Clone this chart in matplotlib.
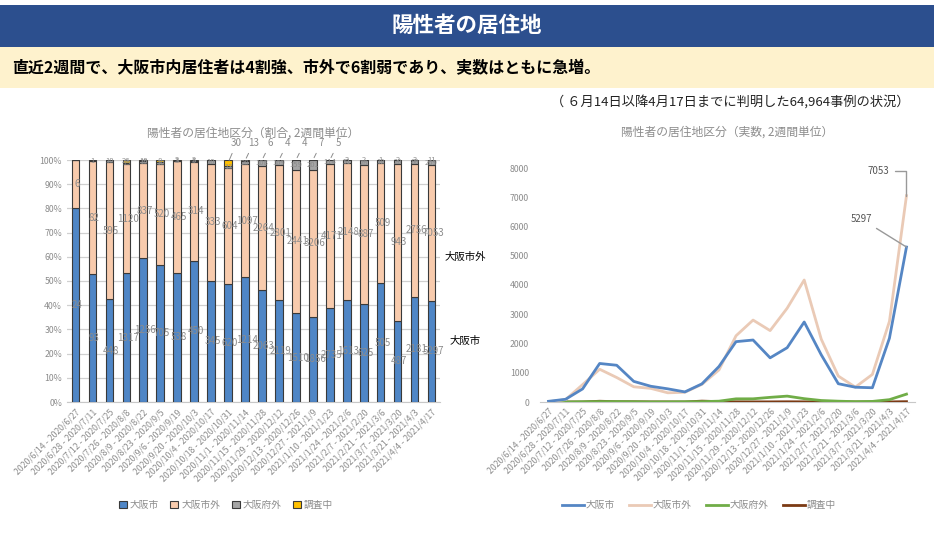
import matplotlib
matplotlib.use("Agg")
import matplotlib.pyplot as plt
import numpy as np
from matplotlib.lines import Line2D
from matplotlib.patches import Patch, Rectangle
from matplotlib.ticker import PercentFormatter

plt.rcParams["font.family"] = ["Noto Sans CJK JP", "DejaVu Sans"]

periods = [
    "2020/6/14 - 2020/6/27", "2020/6/28 - 2020/7/11", "2020/7/12 - 2020/7/25",
    "2020/7/26 - 2020/8/8", "2020/8/9 - 2020/8/22", "2020/8/23 - 2020/9/5",
    "2020/9/6 - 2020/9/19", "2020/9/20 - 2020/10/3", "2020/10/4 - 2020/10/17",
    "2020/10/18 - 2020/10/31", "2020/11/1 - 2020/11/14", "2020/11/15 - 2020/11/28",
    "2020/11/29 - 2020/12/12", "2020/12/13 - 2020/12/26", "2020/12/27 - 2021/1/9",
    "2021/1/10 - 2021/1/23", "2021/1/24 - 2021/2/6", "2021/2/7 - 2021/2/20",
    "2021/2/21 - 2021/3/6", "2021/3/7 - 2021/3/20", "2021/3/21 - 2021/4/3",
    "2021/4/4 - 2021/4/17",
]
osaka_city = [24, 93, 448, 1317, 1256, 705, 538, 450, 345, 620, 1214, 2063,
              2119, 1510, 1856, 2735, 1613, 625, 505, 487, 2181, 5297]
osaka_other_city = [6, 82, 595, 1120, 837, 520, 465, 314, 333, 604, 1097, 2264,
                    2801, 2441, 3206, 4171, 2148, 887, 509, 943, 2756, 7053]
outside_pref = [0, 1, 10, 15, 15, 10, 3, 5, 10, 13, 28, 108,
                109, 159, 201, 114, 51, 28, 12, 20, 80, 269]
investigating = [0, 0, 0, 26, 10, 8, 3, 2, 0, 30, 13, 6,
                 4, 4, 7, 5, 3, 2, 1, 2, 3, 11]
series_names = ["大阪市", "大阪市外", "大阪府外", "調査中"]

bar_colors = ["#4F86C6", "#F8CBAD", "#A5A5A5", "#FFC000"]
line_colors = ["#5586C4", "#EACAB6", "#70AD47", "#7B3A14"]
gray = "#8C8C8C"

fig = plt.figure(figsize=(9.34, 5.39), dpi=100)

# header bands
fig.patches.append(Rectangle((0, 1 - 47 / 539), 1, 42 / 539, transform=fig.transFigure,
                             facecolor="#2C4F8E", edgecolor="none"))
fig.patches.append(Rectangle((0, 1 - 88 / 539), 1, 41 / 539, transform=fig.transFigure,
                             facecolor="#FEF2CD", edgecolor="none"))
fig.text(0.5, 1 - 25 / 539, "陽性者の居住地", color="white", fontsize=15.5,
         fontweight="bold", ha="center", va="center")
fig.text(12 / 934, 1 - 68 / 539, "直近2週間で、大阪市内居住者は4割強、市外で6割弱であり、実数はともに急増。",
         color="black", fontsize=11.5, fontweight="bold", ha="left", va="center")
fig.text(910 / 934, 1 - 102 / 539, "（ ６月14日以降4月17日までに判明した64,964事例の状況）",
         color="#222222", fontsize=9.5, ha="right", va="center")

# ---------------------------------------------------------------------------
# left: stacked ratio bars
# ---------------------------------------------------------------------------
data = np.array([osaka_city, osaka_other_city, outside_pref, investigating], dtype=float)
ratios = data / data.sum(axis=0)
x = np.arange(len(periods))

ax1 = fig.add_axes([67 / 934, 1 - 402 / 539, 373 / 934, 242 / 539])
bottom = np.zeros(len(periods))
for k in range(4):
    ax1.bar(x, ratios[k], 0.45, bottom=bottom, color=bar_colors[k],
            edgecolor="#3A3A3A", linewidth=0.8, zorder=3)
    for i in range(len(periods)):
        v = data[k, i]
        if v == 0:
            continue
        yc = bottom[i] + ratios[k, i] / 2
        if k == 3 and 9 <= i <= 15:
            ax1.annotate(f"{int(v)}", (x[i], yc), xytext=(x[i] + 0.5, 1.07),
                         textcoords="data", fontsize=7, color=gray, ha="center",
                         va="center", annotation_clip=False,
                         arrowprops=dict(arrowstyle="-", color=gray, lw=0.7))
        elif k >= 2:
            ax1.text(x[i], yc, f"{int(v)}", fontsize=5.5, color=gray,
                     ha="center", va="center", zorder=4)
        else:
            ax1.text(x[i] + 0.1, yc, f"{int(v)}", fontsize=7, color=gray,
                     ha="center", va="center", zorder=4)
    bottom += ratios[k]

ax1.set_xlim(-0.5, len(periods) - 0.5)
ax1.set_ylim(0, 1)
ax1.set_yticks(np.arange(0, 1.01, 0.1))
ax1.yaxis.set_major_formatter(PercentFormatter(1.0, decimals=0))
ax1.grid(axis="y", color="#D0D0D0", linewidth=0.9, zorder=0)
ax1.set_xticks(x)
ax1.set_xticklabels(periods, rotation=45, ha="right", rotation_mode="anchor")
ax1.tick_params(axis="both", length=0, labelsize=6.3, colors=gray)
ax1.tick_params(axis="x", pad=4)
for side in ["top", "right", "left"]:
    ax1.spines[side].set_visible(False)
ax1.spines["bottom"].set_color("#C8C8C8")
ax1.set_title("陽性者の居住地区分（割合, 2週間単位）", fontsize=8.5, color=gray, pad=17)

handles = [Patch(facecolor=c, edgecolor="#3A3A3A", linewidth=0.8) for c in bar_colors]
fig.legend(handles, series_names, loc="center", bbox_to_anchor=(226 / 934, 1 - 505 / 539),
           ncol=4, frameon=False, fontsize=7, labelcolor=gray, handlelength=0.8,
           handleheight=0.8, handletextpad=0.3, columnspacing=1.2)

fig.text(465 / 934, 1 - 257 / 539, "大阪市外", fontsize=7.5, ha="center", va="center")
fig.text(465 / 934, 1 - 341 / 539, "大阪市", fontsize=7.5, ha="center", va="center")

# ---------------------------------------------------------------------------
# right: counts as lines
# ---------------------------------------------------------------------------
ax2 = fig.add_axes([540 / 934, 1 - 402 / 539, 375 / 934, 234 / 539])
for k in range(4):
    ax2.plot(x, data[k], color=line_colors[k], linewidth=2, zorder=3 - k * 0.1)

ax2.annotate(f"{osaka_other_city[-1]}", (x[-1], osaka_other_city[-1]),
             xytext=(x[-1] - 1.0, 7900), fontsize=7, color="#555555", ha="right",
             va="center", annotation_clip=False,
             arrowprops=dict(arrowstyle="-", color="#999999", lw=1,
                             connectionstyle="angle,angleA=0,angleB=90,rad=0",
                             shrinkA=2, shrinkB=0))
ax2.annotate(f"{osaka_city[-1]}", (x[-1], osaka_city[-1]),
             xytext=(x[-1] - 2.0, 6250), fontsize=7, color="#555555", ha="right",
             va="center", annotation_clip=False,
             arrowprops=dict(arrowstyle="-", color="#999999", lw=1,
                             shrinkA=2, shrinkB=0))

ax2.set_xlim(-0.5, len(periods) - 0.5)
ax2.set_ylim(0, 8000)
ax2.set_yticks(np.arange(0, 8001, 1000))
ax2.set_xticks(x)
ax2.set_xticklabels(periods, rotation=45, ha="right", rotation_mode="anchor")
ax2.tick_params(axis="both", length=0, labelsize=6.3, colors=gray)
ax2.tick_params(axis="y", pad=8)
for side in ["top", "right", "left"]:
    ax2.spines[side].set_visible(False)
ax2.spines["bottom"].set_color("#C8C8C8")
ax2.set_title("陽性者の居住地区分（実数, 2週間単位）", fontsize=8.5, color=gray, pad=23)

line_handles = [Line2D([0], [0], color=c, linewidth=2) for c in line_colors]
fig.legend(line_handles, series_names, loc="center", bbox_to_anchor=(699 / 934, 1 - 505 / 539),
           ncol=4, frameon=False, fontsize=7, labelcolor=gray, handlelength=2.2,
           handletextpad=0.2, columnspacing=1.5)

fig.savefig("out.png", dpi=100)
